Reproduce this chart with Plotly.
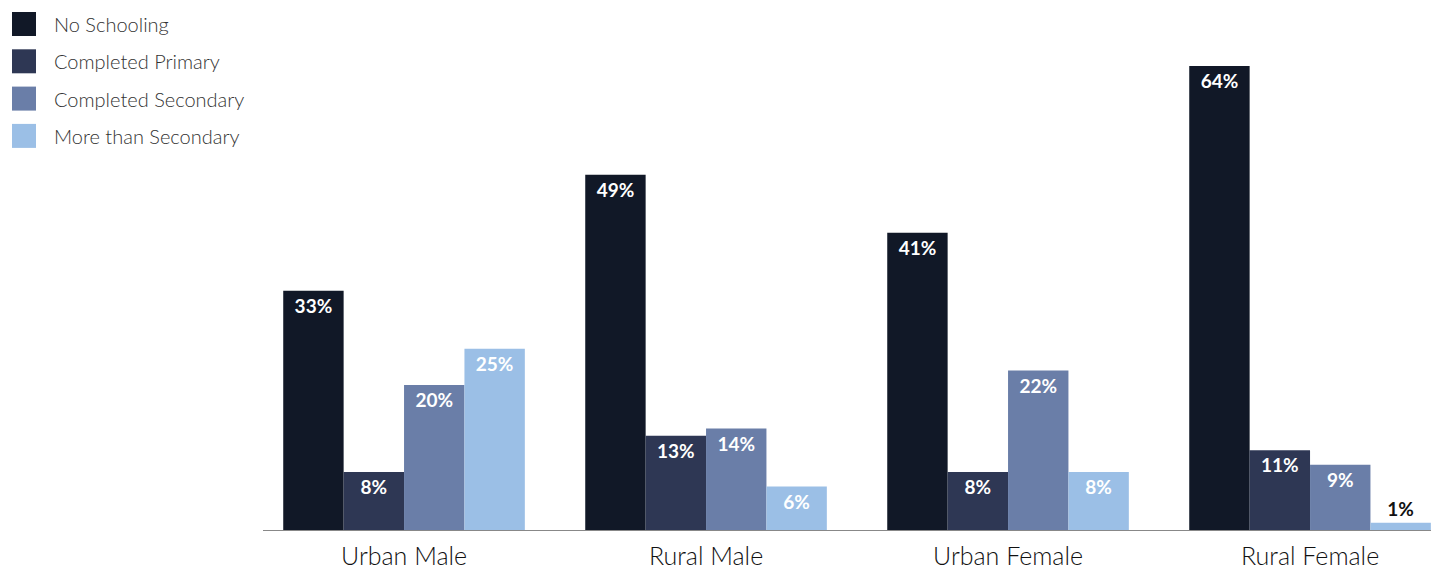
import plotly.graph_objects as go

# data
groups = ["Urban Male", "Rural Male", "Urban Female", "Rural Female"]
series = ["No Schooling", "Completed Primary", "Completed Secondary", "More than Secondary"]
no_schooling = [33, 49, 41, 64]
completed_primary = [8, 13, 8, 11]
completed_secondary = [20, 14, 22, 9]
more_than_secondary = [25, 6, 8, 1]
colors = ["#111827", "#2e3754", "#6a7ea8", "#9bbfe6"]

values = [no_schooling, completed_primary, completed_secondary, more_than_secondary]

# page body adds an 8px margin, so the figure is 8px smaller
W, H = 1431, 561
ml, mr, mt, mb = 255, 0, 58, 39
pw, ph = W - ml - mr, H - mt - mb

fig = go.Figure()
for name, vals, col in zip(series, values, colors):
    pos = ["inside" if v >= 3 else "outside" for v in vals]
    fig.add_trace(go.Bar(
        x=groups, y=vals, name=name,
        marker=dict(color=col, line=dict(width=0)),
        text=[f"<b>{v}%</b>" for v in vals], textposition=pos,
        insidetextanchor="end", textangle=0, constraintext="none",
        insidetextfont=dict(color="white", size=19, family="Lato"),
        outsidetextfont=dict(color="#111111", size=19, family="Lato"),
        showlegend=False,
    ))

# legend drawn as squares + labels
shapes, annos = [], []
for i, (name, col) in enumerate(zip(series, colors)):
    top = 4 + i * 37.3
    shapes.append(dict(
        type="rect", xref="paper", yref="paper",
        x0=(4 - ml) / pw, x1=(28 - ml) / pw,
        y0=(H - mb - top) / ph, y1=(H - mb - top - 24) / ph,
        fillcolor=col, line=dict(width=0),
    ))
    annos.append(dict(
        xref="paper", yref="paper", x=(44 - ml) / pw, y=(H - mb - top - 12) / ph,
        text=name, showarrow=False, xanchor="left", yanchor="middle",
        font=dict(size=20, color="#333333", family="Lato", weight=300),
    ))

fig.update_layout(
    width=W, height=H,
    margin=dict(l=ml, r=mr, t=mt, b=mb),
    barmode="group", bargap=0.2, bargroupgap=0,
    plot_bgcolor="white", paper_bgcolor="white",
    font=dict(family="Lato", color="#222222"),
    shapes=shapes, annotations=annos,
    xaxis=dict(
        range=[-0.467, 3.427], showline=True, linecolor="#888888", linewidth=1,
        showgrid=False, ticks="", tickfont=dict(size=25, color="#111111", weight=300),
        ticklabelstandoff=4,
    ),
    yaxis=dict(range=[0, 64], visible=False, showgrid=False, zeroline=False),
    uniformtext=dict(mode=False),
)

fig.write_html("out.html")
